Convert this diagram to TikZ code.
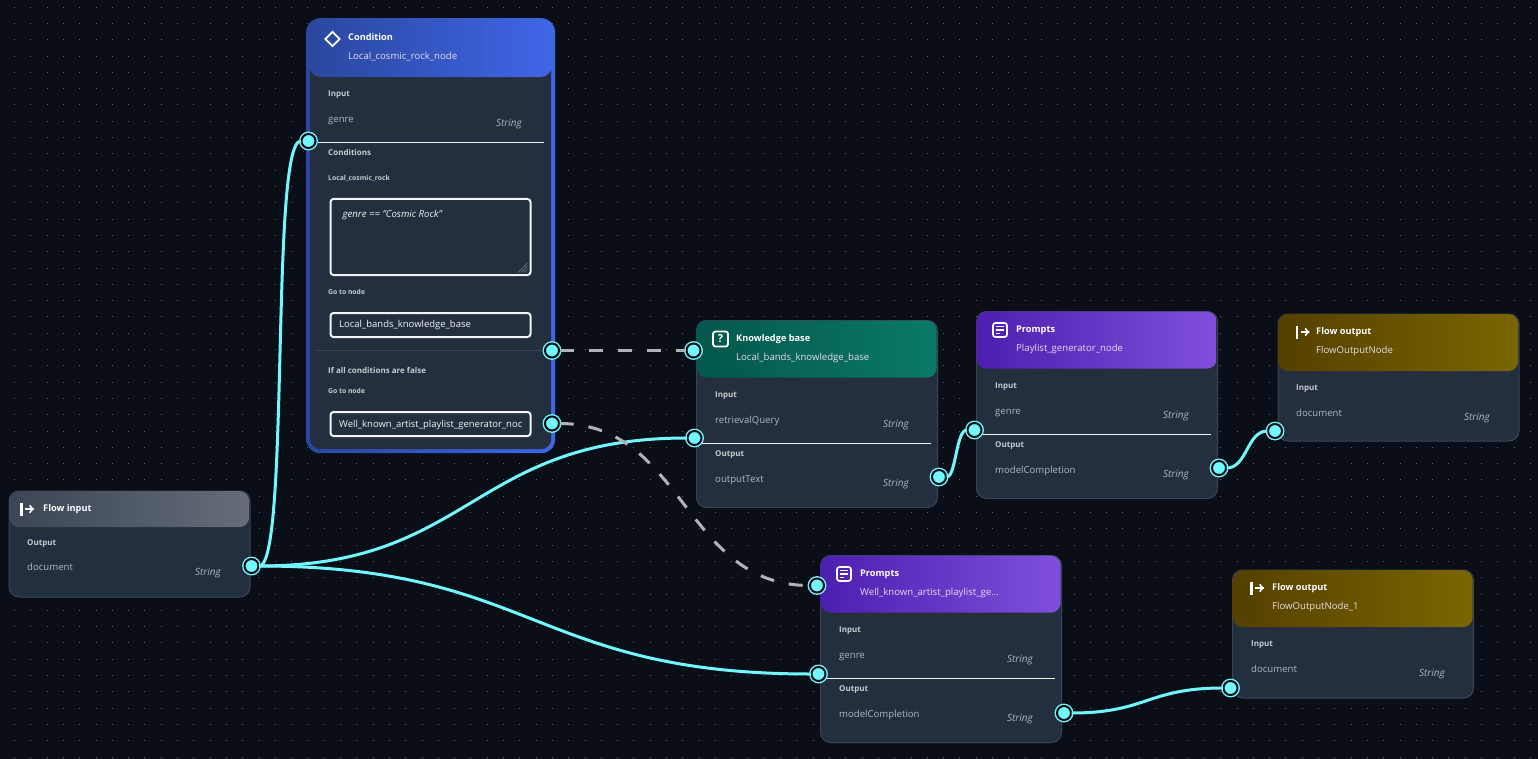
\documentclass[tikz,border=0pt]{standalone}
\usepackage{xcolor}
\usepackage{fontspec}
\setmainfont{Open Sans}
\usetikzlibrary{arrows,shapes.geometric}

\definecolor{canvasbg}{HTML}{0A0E17}
\definecolor{griddot}{HTML}{5F656C}
\definecolor{cardfill}{HTML}{232F3E}
\definecolor{cardedge}{HTML}{3A4554}
\definecolor{linecyan}{HTML}{72F8FC}
\definecolor{branchgray}{HTML}{B2B3B8}
\definecolor{softwhite}{HTML}{F2F3F3}
\definecolor{sectiongray}{HTML}{C8CCD0}
\definecolor{fieldgray}{HTML}{B0B6BC}
\definecolor{inputleft}{HTML}{3C4654}
\definecolor{inputright}{HTML}{646D78}
\definecolor{knowleft}{HTML}{04574C}
\definecolor{knowright}{HTML}{0A7A66}
\definecolor{promptleft}{HTML}{4D1FB0}
\definecolor{promptright}{HTML}{7F4FDC}
\definecolor{outputleft}{HTML}{544000}
\definecolor{outputright}{HTML}{7A6600}
\definecolor{condleft}{HTML}{2B479F}
\definecolor{condright}{HTML}{3F66E6}

\tikzset{
  cardbody/.style={draw=cardedge,fill=cardfill,line width=1pt,rounded corners=10pt,anchor=north west,inner sep=0pt,minimum width=241pt},
  cardhead/.style={rounded corners=10pt,anchor=north west,inner sep=0pt,minimum width=240pt},
  inputhead/.style={cardhead,left color=inputleft,right color=inputright},
  knowhead/.style={cardhead,left color=knowleft,right color=knowright},
  prompthead/.style={cardhead,left color=promptleft,right color=promptright},
  outputhead/.style={cardhead,left color=outputleft,right color=outputright},
  titletxt/.style={anchor=base west,inner sep=0pt,text=white,font=\fontsize{9.2}{10}\selectfont\bfseries},
  nametxt/.style={anchor=base west,inner sep=0pt,text=softwhite!90!violet,font=\fontsize{9.6}{10}\selectfont},
  sectiontxt/.style={anchor=base west,inner sep=0pt,text=sectiongray,font=\fontsize{8}{9}\selectfont\bfseries},
  tinytxt/.style={anchor=base west,inner sep=0pt,text=sectiongray,font=\fontsize{6.8}{8}\selectfont\bfseries},
  fieldtxt/.style={anchor=base west,inner sep=0pt,text=fieldgray,font=\fontsize{9.6}{10}\selectfont},
  typetxt/.style={anchor=base east,inner sep=0pt,text=fieldgray,font=\fontsize{10}{10}\selectfont\itshape},
  entrybox/.style={draw=softwhite,fill=cardfill,line width=2pt,rounded corners=3pt,anchor=north west,inner sep=0pt,minimum width=200pt},
  entrytxt/.style={anchor=base west,inner sep=0pt,text=softwhite,font=\fontsize{9.5}{10}\selectfont},
  port/.style={circle,inner sep=0pt,minimum size=14pt,fill=linecyan,draw=linecyan,double=canvasbg,double distance=2pt,line width=1.4pt},
  flowline/.style={draw=linecyan,line width=3pt},
  branchline/.style={draw=branchgray,line width=3pt,dash pattern=on 14pt off 15pt},
  flowmark/.pic={
    \draw[white,line width=2.2pt] (0,-6.5) -- (0,6.5);
    \draw[white,line width=2pt,-to] (3.5,0) -- (12.5,0);
  },
  promptmark/.pic={
    \draw[white,line width=1.7pt,rounded corners=2.5pt] (-7,-7) rectangle (7,7);
    \draw[white,line width=1.6pt] (-4,-3.5) -- (4,-3.5);
    \draw[white,line width=1.6pt] (-4,0) -- (4,0);
    \draw[white,line width=1.6pt] (-4,3.5) -- (0,3.5);
  },
}

\begin{document}
\begin{tikzpicture}[x=1pt,y=-1pt]
\useasboundingbox (0,0) rectangle (1538,759);
\fill[canvasbg] (0,0) rectangle (1538,759);

% dotted canvas
\foreach \row in {0,...,46}
  \draw[griddot,line width=1pt,dash pattern=on 1pt off 15.3pt] (14,7.2+\row*16.3) -- (1538,7.2+\row*16.3);

% flow input
\node[cardbody,minimum height=106pt] (inputCard) at (8.5,490.5) {};
\node[inputhead,minimum height=36pt] (inputHead) at (9,491) {};
\pic at (21.5,509) {flowmark};
\node[titletxt] (inputTitle) at (43,511) {Flow input};
\node[sectiontxt] (inputOut) at (27,545) {Output};
\node[fieldtxt] (inputDoc) at (27,570) {document};
\node[typetxt] (inputType) at (221,575) {String};

% condition
\node[left color=condleft,right color=condright,rounded corners=14pt,anchor=north west,inner sep=0pt,minimum width=249pt,minimum height=435pt] (condFrame) at (306,18) {};
\node[fill=cardfill,rounded corners=10pt,anchor=north west,inner sep=0pt,minimum width=241pt,minimum height=400pt] (condBody) at (310,49) {};
\node[left color=condleft,right color=condright,rounded corners=12pt,anchor=north west,inner sep=0pt,minimum width=243pt,minimum height=59pt] (condHead) at (309,18) {};
\node[diamond,draw=white,line width=1.9pt,inner sep=0pt,minimum size=15pt] (condMark) at (332.5,39) {};
\node[titletxt] (condTitle) at (348,41) {Condition};
\node[nametxt] (condName) at (348,60) {Local\_cosmic\_rock\_node};
\node[sectiontxt] (condInLabel) at (328,96.5) {Input};
\node[fieldtxt] (condGenre) at (328,122.5) {genre};
\node[typetxt] (condType) at (522,126.5) {String};
\draw[softwhite,line width=1pt] (318,142.5) -- (544,142.5);
\node[sectiontxt] (condRules) at (328,155.5) {Conditions};
\node[tinytxt] (condRule) at (328,180.5) {Local\_cosmic\_rock};
\node[entrybox,minimum height=76pt] (condExpr) at (329.5,198) {};
\node[entrytxt,font=\fontsize{9.6}{10}\selectfont\itshape] (condExprTxt) at (342.5,217.5) {genre == "Cosmic Rock"};
\foreach \k in {0,3,6}
  \draw[gray,line width=.6pt] (527.5,263+\k) -- (518+\k,272.5);
\node[tinytxt] (condGo) at (328,294) {Go to node};
\node[entrybox,minimum height=24pt] (condGoBox) at (329.5,312) {};
\node[entrytxt] (condGoTxt) at (339,327.5) {Local\_bands\_knowledge\_base};
\draw[cardedge,line width=1pt] (316,350.5) -- (552,350.5);
\node[sectiontxt] (condElse) at (328,373) {If all conditions are false};
\node[tinytxt] (condElseGo) at (328,393) {Go to node};
\node[entrybox,minimum height=24pt] (condElseBox) at (329.5,411) {};
\node[entrytxt] (condElseTxt) at (339,427.5) {Well\_known\_artist\_playlist\_generator\_noc};

% knowledge base
\node[cardbody,minimum height=187pt] (knowCard) at (696,320) {};
\node[knowhead,minimum height=57pt] (knowHead) at (696.5,320.5) {};
\node[draw=white,line width=1.8pt,rounded corners=2.5pt,minimum size=15pt,inner sep=0pt,text=white,font=\fontsize{11}{11}\selectfont\bfseries] (knowMark) at (720.5,339) {?};
\node[titletxt] (knowTitle) at (736,341) {Knowledge base};
\node[nametxt] (knowName) at (736,360) {Local\_bands\_knowledge\_base};
\node[sectiontxt] (knowIn) at (715,397) {Input};
\node[fieldtxt] (knowQuery) at (715,423) {retrievalQuery};
\node[typetxt] (knowType) at (909,427) {String};
\draw[softwhite,line width=1pt] (697,443.5) -- (931,443.5);
\node[sectiontxt] (knowOut) at (715,456) {Output};
\node[fieldtxt] (knowText) at (715,482) {outputText};
\node[typetxt] (knowOutType) at (909,486) {String};

% playlist prompt
\node[cardbody,minimum height=187pt] (listCard) at (976,311) {};
\node[prompthead,minimum height=57pt] (listHead) at (976.5,311.5) {};
\pic at (1000,330) {promptmark};
\node[titletxt] (listTitle) at (1016,332) {Prompts};
\node[nametxt] (listName) at (1016,351) {Playlist\_generator\_node};
\node[sectiontxt] (listIn) at (995,388) {Input};
\node[fieldtxt] (listGenre) at (995,414) {genre};
\node[typetxt] (listType) at (1189,418) {String};
\draw[softwhite,line width=1pt] (977,434.5) -- (1211,434.5);
\node[sectiontxt] (listOut) at (995,447) {Output};
\node[fieldtxt] (listModel) at (995,473) {modelCompletion};
\node[typetxt] (listOutType) at (1189,477) {String};

% first flow output
\node[cardbody,minimum height=127pt] (endCard) at (1277.5,313.5) {};
\node[outputhead,minimum height=57pt] (endHead) at (1278,314) {};
\pic at (1297,332) {flowmark};
\node[titletxt] (endTitle) at (1316,334) {Flow output};
\node[nametxt] (endName) at (1316,353) {FlowOutputNode};
\node[sectiontxt] (endIn) at (1296,390) {Input};
\node[fieldtxt] (endDoc) at (1296,416) {document};
\node[typetxt] (endType) at (1490,420) {String};

% well known prompt
\node[cardbody,minimum height=187pt] (wellCard) at (820,555) {};
\node[prompthead,minimum height=57pt] (wellHead) at (820.5,555.5) {};
\pic at (844,574) {promptmark};
\node[titletxt] (wellTitle) at (860,576) {Prompts};
\node[nametxt] (wellName) at (860,595) {Well\_known\_artist\_playlist\_ge...};
\node[sectiontxt] (wellIn) at (839,632) {Input};
\node[fieldtxt] (wellGenre) at (839,658) {genre};
\node[typetxt] (wellType) at (1033,662) {String};
\draw[softwhite,line width=1pt] (821,678.5) -- (1055,678.5);
\node[sectiontxt] (wellOut) at (839,691) {Output};
\node[fieldtxt] (wellModel) at (839,717) {modelCompletion};
\node[typetxt] (wellOutType) at (1033,721) {String};

% second flow output
\node[cardbody,minimum height=128pt] (lastCard) at (1232,569.5) {};
\node[outputhead,minimum height=57pt] (lastHead) at (1232.5,570) {};
\pic at (1251.5,588) {flowmark};
\node[titletxt] (lastTitle) at (1272,590) {Flow output};
\node[nametxt] (lastName) at (1272,609) {FlowOutputNode\_1};
\node[sectiontxt] (lastIn) at (1251,646) {Input};
\node[fieldtxt] (lastDoc) at (1251,672) {document};
\node[typetxt] (lastType) at (1445,676) {String};

% ports
\node[port] (inputPort) at (251.5,566) {};
\node[port] (condIn) at (308.5,141) {};
\node[port] (condYes) at (552,350.5) {};
\node[port] (condNo) at (552,423.5) {};
\node[port] (knowBranch) at (693.5,350.5) {};
\node[port] (knowInput) at (694.5,438) {};
\node[port] (knowOutput) at (939,477) {};
\node[port] (listInput) at (974.5,430) {};
\node[port] (listOutput) at (1219,468) {};
\node[port] (endInput) at (1275,431) {};
\node[port] (wellBranch) at (817,585.5) {};
\node[port] (wellInput) at (818.5,674) {};
\node[port] (wellOutput) at (1064,713) {};
\node[port] (lastInput) at (1230.5,688) {};

% connectors
\draw[flowline] (inputPort) .. controls (290,566) and (270,141) .. (condIn);
\draw[flowline] (inputPort) .. controls (472,566) and (472,438) .. (knowInput);
\draw[flowline] (inputPort) .. controls (534,566) and (534,674) .. (wellInput);
\draw[flowline] (knowOutput) .. controls (956,477) and (956,430) .. (listInput);
\draw[flowline] (listOutput) .. controls (1247,468) and (1247,431) .. (endInput);
\draw[flowline] (wellOutput) .. controls (1147,713) and (1147,688) .. (lastInput);
\draw[branchline] (condYes) -- (knowBranch);
\draw[branchline] (condNo) .. controls (684,423.5) and (684,585.5) .. (wellBranch);
\end{tikzpicture}
\end{document}
